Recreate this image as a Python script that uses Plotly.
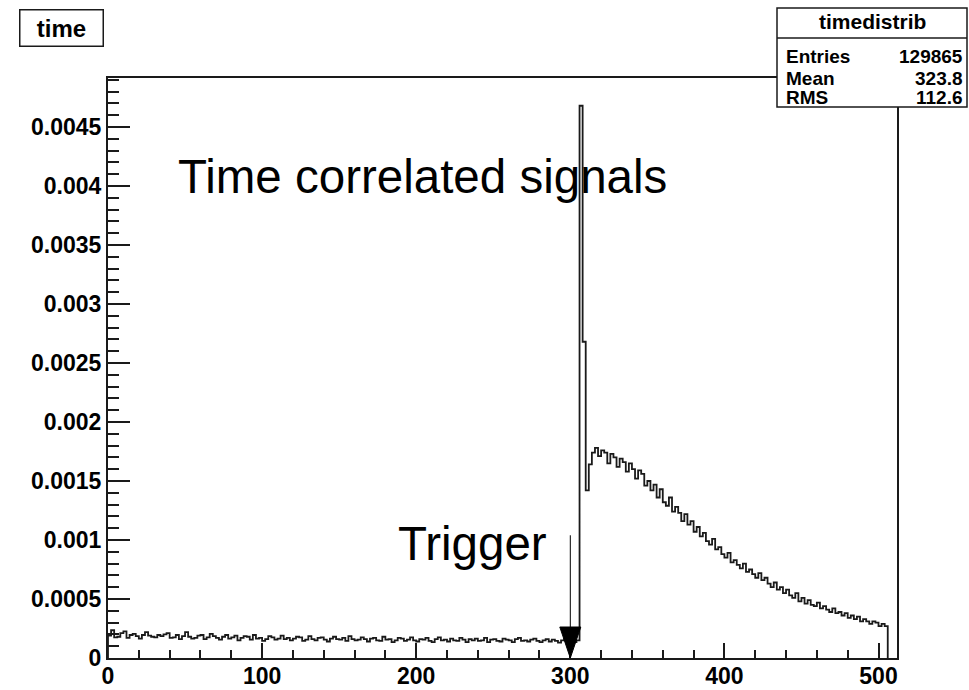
import numpy as np
import plotly.graph_objects as go

# ---------------------------------------------------------------- data
BIN_WIDTH = 2          # time units per bin
SCALE = 1e-4           # bin contents below are stored in units of 1e-4

# flat random background before the trigger (bins starting at 0, 2, ..., 304)
pre_trigger = [
    1.90, 2.35, 1.75, 1.80, 2.10, 2.25, 1.70, 1.95, 2.05, 1.85, 1.65, 1.95, 2.20, 1.90, 1.80, 1.75, 1.95, 1.85, 2.00, 2.10,
    1.70, 1.75, 1.95, 1.60, 1.85, 2.20, 1.80, 1.65, 1.70, 1.90, 1.95, 1.60, 1.75, 2.05, 1.85, 1.70, 1.55, 1.80, 1.95, 1.65,
    1.75, 1.90, 1.50, 1.70, 1.85, 1.80, 1.55, 1.95, 1.65, 1.70, 1.45, 1.60, 1.85, 1.75, 1.55, 1.65, 1.90, 1.60, 1.70, 1.50,
    1.65, 1.80, 1.75, 1.45, 1.55, 1.85, 1.60, 1.50, 1.70, 1.75, 1.55, 1.40, 1.65, 1.80, 1.60, 1.55, 1.70, 1.45, 1.85, 1.60,
    1.50, 1.55, 1.75, 1.60, 1.40, 1.65, 1.70, 1.50, 1.45, 1.80, 1.55, 1.60, 1.35, 1.50, 1.70, 1.65, 1.45, 1.55, 1.75, 1.50,
    1.40, 1.60, 1.55, 1.70, 1.45, 1.35, 1.60, 1.75, 1.50, 1.55, 1.40, 1.65, 1.50, 1.45, 1.70, 1.55, 1.35, 1.60, 1.50, 1.65,
    1.45, 1.50, 1.70, 1.35, 1.55, 1.60, 1.45, 1.40, 1.65, 1.55, 1.50, 1.35, 1.60, 1.70, 1.45, 1.50, 1.40, 1.55, 1.65, 1.45,
    1.35, 1.50, 1.60, 1.40, 1.55, 1.45, 1.30, 1.50, 1.65, 1.40, 1.45, 1.35, 1.50,
]

# prompt, time-correlated component (bins starting at 306, 308, 310)
prompt_peak = [46.8, 26.8, 14.2]

# delayed component (bins starting at 312 ... 504)
delayed_tail = [
    16.4, 17.4, 17.8, 17.1, 17.6, 17.4, 16.5, 17.3, 17.0, 16.2,
    16.9, 16.6, 15.8, 16.5, 16.0, 15.2, 15.9, 15.6, 14.6, 15.0,
    14.2, 14.7, 13.6, 14.3, 13.2, 12.9, 13.6, 12.4, 12.8, 12.3,
    11.6, 12.2, 11.3, 11.6, 10.7, 11.1, 10.3, 10.6, 9.9, 9.6,
    10.1, 9.2, 9.4, 8.8, 8.5, 8.9, 8.1, 8.3, 7.9, 7.6,
    8.0, 7.3, 7.5, 7.1, 6.8, 7.2, 6.6, 6.8, 6.3, 6.0,
    6.4, 5.8, 6.0, 5.5, 5.8, 5.3, 5.1, 5.5, 4.8, 5.1,
    4.6, 4.9, 4.5, 4.4, 4.7, 4.2, 4.4, 4.1, 3.9, 4.2,
    3.8, 3.9, 3.6, 3.8, 3.4, 3.6, 3.3, 3.5, 3.1, 3.3,
    3.1, 2.9, 3.1, 3.0, 2.7, 2.9, 2.7,
]

x_tick_values = [0, 100, 200, 300, 400, 500]
x_tick_labels = ["0", "100", "200", "300", "400", "500"]
y_tick_values = [0, 0.0005, 0.001, 0.0015, 0.002, 0.0025, 0.003, 0.0035, 0.004, 0.0045]
y_tick_labels = ["0", "0.0005", "0.001", "0.0015", "0.002", "0.0025", "0.003", "0.0035", "0.004", "0.0045"]

stats_title = "timedistrib"
stats_names = ["Entries", "Mean", "RMS"]
stats_values = ["129865", "323.8", "112.6"]

TRIGGER_X = 300
TRIGGER_TAIL_Y = 0.00104

X_RANGE = [0, 512]
Y_RANGE = [0, 0.004915]

# ---------------------------------------------------------------- layout constants
W, H = 969, 690
L, R, T, B = 108, 72, 78, 32
PW, PH = W - L - R, H - T - B
FONT = "Liberation Sans, Arial, Helvetica, sans-serif"
INK = "#1a1a1a"


def px_to_paper_x(px):
    return (px - L) / PW


def px_to_paper_y(py):
    return (H - B - py) / PH


# ---------------------------------------------------------------- histogram as a step line
content = np.array(pre_trigger + prompt_peak + delayed_tail) * SCALE
edges = np.arange(len(content) + 1) * BIN_WIDTH
x_steps = np.concatenate([[edges[0]], edges[:-1], [edges[-1]]])
y_steps = np.concatenate([[0.0], content, [0.0]])

fig = go.Figure()
fig.add_trace(go.Scatter(
    x=x_steps, y=y_steps, mode="lines", line_shape="hv",
    line=dict(color=INK, width=1.8), hoverinfo="skip", showlegend=False,
))

# ---------------------------------------------------------------- axes (ROOT-like inner ticks)
fig.update_xaxes(
    range=X_RANGE, showgrid=False, zeroline=False, automargin=False,
    showline=True, linecolor=INK, linewidth=2, mirror=True,
    ticks="inside", ticklen=15, tickwidth=1.5, tickcolor=INK,
    tickvals=x_tick_values, ticktext=x_tick_labels, ticklabelstandoff=-4,
    tickfont=dict(family=FONT, size=23, color="black", weight="bold"),
    minor=dict(ticks="inside", ticklen=8, tickwidth=1.5, tickcolor=INK, dtick=20, tick0=0, showgrid=False),
)
fig.update_yaxes(
    range=Y_RANGE, showgrid=False, zeroline=False, automargin=False,
    showline=True, linecolor=INK, linewidth=2, mirror=True,
    ticks="inside", ticklen=22, tickwidth=1.5, tickcolor=INK,
    tickvals=y_tick_values, ticktext=y_tick_labels, ticklabelstandoff=0,
    tickfont=dict(family=FONT, size=23, color="black", weight="bold"),
    minor=dict(ticks="inside", ticklen=11, tickwidth=1.5, tickcolor=INK, dtick=0.0001, tick0=0, showgrid=False),
)

shapes = []
annotations = []

# ---------------------------------------------------------------- trigger arrow
shapes.append(dict(type="line", xref="x", yref="y", x0=TRIGGER_X, x1=TRIGGER_X,
                   y0=0, y1=TRIGGER_TAIL_Y, line=dict(color="black", width=1)))
shapes.append(dict(type="path", xref="x", yref="y", xsizemode="pixel", ysizemode="pixel",
                   xanchor=TRIGGER_X, yanchor=0,
                   path="M-10.5,31 L10.5,31 L0,0 Z",
                   fillcolor="black", line=dict(color="black", width=1)))

annotations.append(dict(text="Trigger", xref="paper", yref="paper",
                        x=px_to_paper_x(396), y=px_to_paper_y(543),
                        xanchor="left", yanchor="middle", showarrow=False,
                        font=dict(family=FONT, size=47.5, color="black")))
annotations.append(dict(text="Time correlated signals", xref="paper", yref="paper",
                        x=px_to_paper_x(176), y=px_to_paper_y(177),
                        xanchor="left", yanchor="middle", showarrow=False,
                        font=dict(family=FONT, size=47.5, color="black")))

# ---------------------------------------------------------------- title box
annotations.append(dict(text="time", xref="paper", yref="paper",
                        x=px_to_paper_x(19), y=px_to_paper_y(9),
                        xanchor="left", yanchor="top", showarrow=False,
                        width=80, height=33, borderpad=1, borderwidth=1.5,
                        bordercolor=INK, bgcolor="white",
                        font=dict(family=FONT, size=24, color="black", weight="bold")))

# ---------------------------------------------------------------- statistics box
SB_L, SB_R, SB_T, SB_B, SB_SEP = 777, 967, 8, 107, 38
shapes.append(dict(type="rect", xref="paper", yref="paper",
                   x0=px_to_paper_x(SB_L), x1=px_to_paper_x(SB_R),
                   y0=px_to_paper_y(SB_B), y1=px_to_paper_y(SB_T),
                   fillcolor="white", line=dict(color=INK, width=1.5), layer="above"))
shapes.append(dict(type="line", xref="paper", yref="paper",
                   x0=px_to_paper_x(SB_L), x1=px_to_paper_x(SB_R),
                   y0=px_to_paper_y(SB_SEP), y1=px_to_paper_y(SB_SEP),
                   line=dict(color=INK, width=1.5), layer="above"))
annotations.append(dict(text=stats_title, xref="paper", yref="paper",
                        x=px_to_paper_x((SB_L + SB_R) / 2), y=px_to_paper_y(21),
                        xanchor="center", yanchor="middle", showarrow=False,
                        font=dict(family=FONT, size=21, color="black", weight="bold")))
row_y = [57, 78, 98]
for name, val, ry in zip(stats_names, stats_values, row_y):
    annotations.append(dict(text=name, xref="paper", yref="paper",
                            x=px_to_paper_x(SB_L + 8), y=px_to_paper_y(ry),
                            xanchor="left", yanchor="middle", showarrow=False, borderpad=0,
                            font=dict(family=FONT, size=19, color="black", weight="bold")))
    annotations.append(dict(text=val, xref="paper", yref="paper",
                            x=px_to_paper_x(SB_R - 3), y=px_to_paper_y(ry),
                            xanchor="right", yanchor="middle", showarrow=False, borderpad=0,
                            font=dict(family=FONT, size=19, color="black", weight="bold")))

fig.update_layout(
    width=W, height=H,
    margin=dict(l=L, r=R, t=T, b=B, pad=0),
    paper_bgcolor="white", plot_bgcolor="white",
    shapes=shapes, annotations=annotations,
    font=dict(family=FONT, color="black"),
)

fig.write_html("out.html")
